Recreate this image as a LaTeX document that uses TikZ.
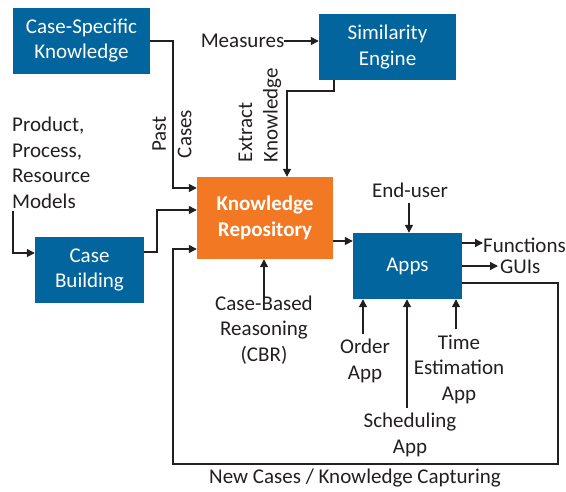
\documentclass[tikz,border=0pt]{standalone}
\usepackage{fontspec}
\setmainfont{Carlito}
\usetikzlibrary{arrows.meta}
\definecolor{boxblue}{RGB}{2,101,157}
\definecolor{boxorange}{RGB}{242,120,36}
\definecolor{ink}{RGB}{35,31,32}
\begin{document}
\begin{tikzpicture}[x=1pt,y=-1pt,
  every node/.style={font=\fontsize{21}{25.5}\selectfont, inner sep=0pt, text=ink},
  box/.style={fill=boxblue, text=white, align=center},
  repo/.style={fill=boxorange, text=white, align=center, font=\fontsize{21}{25.5}\selectfont\bfseries},
  lbl/.style={align=center},
  arr/.style={draw=ink, line width=1.3pt, -{Triangle[length=8pt,width=8pt]}}]
\useasboundingbox (0,0) rectangle (566,491);

% blocks
\node[box, minimum width=137pt, minimum height=66pt] (csk) at (81.5,40.5) {Case-Specific\\Knowledge};
\node[box, minimum width=137pt, minimum height=66pt] (se) at (387.5,47) {Similarity\\Engine};
\node[repo, minimum width=136pt, minimum height=82pt] (kr) at (265,218) {Knowledge\\Repository};
\node[box, minimum width=109pt, minimum height=66pt] (cb) at (89.5,270) {Case\\Building};
\node[box, minimum width=109pt, minimum height=66pt] (apps) at (407.5,266) {Apps};

% labels
\node (meas) at (242.5,41) {Measures};
\node[lbl, rotate=90] (past) at (172,134) {Past\\Cases};
\node[align=left, rotate=90] (extr) at (260,115) {Extract\\Knowledge};
\node[align=left, anchor=west] (models) at (12,163) {Product,\\Process,\\Resource\\Models};
\node[lbl] (cbr) at (264,330) {Case-Based\\Reasoning\\(CBR)};
\node (eu) at (410,190) {End-user};
\node[anchor=west] (fun) at (483,245) {Functions};
\node[anchor=west] (gui) at (500,267) {GUIs};
\node[lbl] (order) at (365,361) {Order\\App};
\node[lbl] (sched) at (410,435) {Scheduling\\App};
\node[lbl] (time) at (459,369) {Time\\Estimation\\App};
\node (newc) at (355,478) {New Cases / Knowledge Capturing};

% connectors
\draw[arr] (csk.east |- 0,41) -- (173,41) -- (173,188) -- (kr.west |- 0,188);
\draw[arr] (meas.east |- 0,41) -- (se.west |- 0,41);
\draw[arr] (se.south -| 334,0) -- (334,91) -- (287,91) -- (kr.north -| 287,0);
\draw[arr] ([xshift=1pt,yshift=-2pt]models.south west) |- (cb.west |- 0,253);
\draw[arr] (cb.east |- 0,252) -- (157,252) -- (157,210) -- (kr.west |- 0,210);
\draw[arr] (apps.east |- 0,283) -- (558,283) -- (558,464) -- (173,464) -- (173,249) -- (kr.west |- 0,249);
\draw[arr] ([yshift=-4pt]cbr.north) -- (cbr.north |- kr.south);
\draw[arr] ([yshift=-5pt]eu.south -| 409,0) -- (apps.north -| 409,0);
\draw[arr] (kr.east |- 0,241) -- (apps.west |- 0,241);
\draw[arr] (apps.east |- 0,243) -- (fun.west |- 0,243);
\draw[arr] (apps.east |- 0,266) -- ([xshift=-2pt]gui.west |- 0,266);
\draw[arr] ([yshift=5pt]order.north -| 363,0) -- (apps.south -| 363,0);
\draw[arr] ([yshift=5pt]sched.north -| 407,0) -- (apps.south -| 407,0);
\draw[arr] ([yshift=5pt]time.north -| 456,0) -- (apps.south -| 456,0);
\end{tikzpicture}
\end{document}
